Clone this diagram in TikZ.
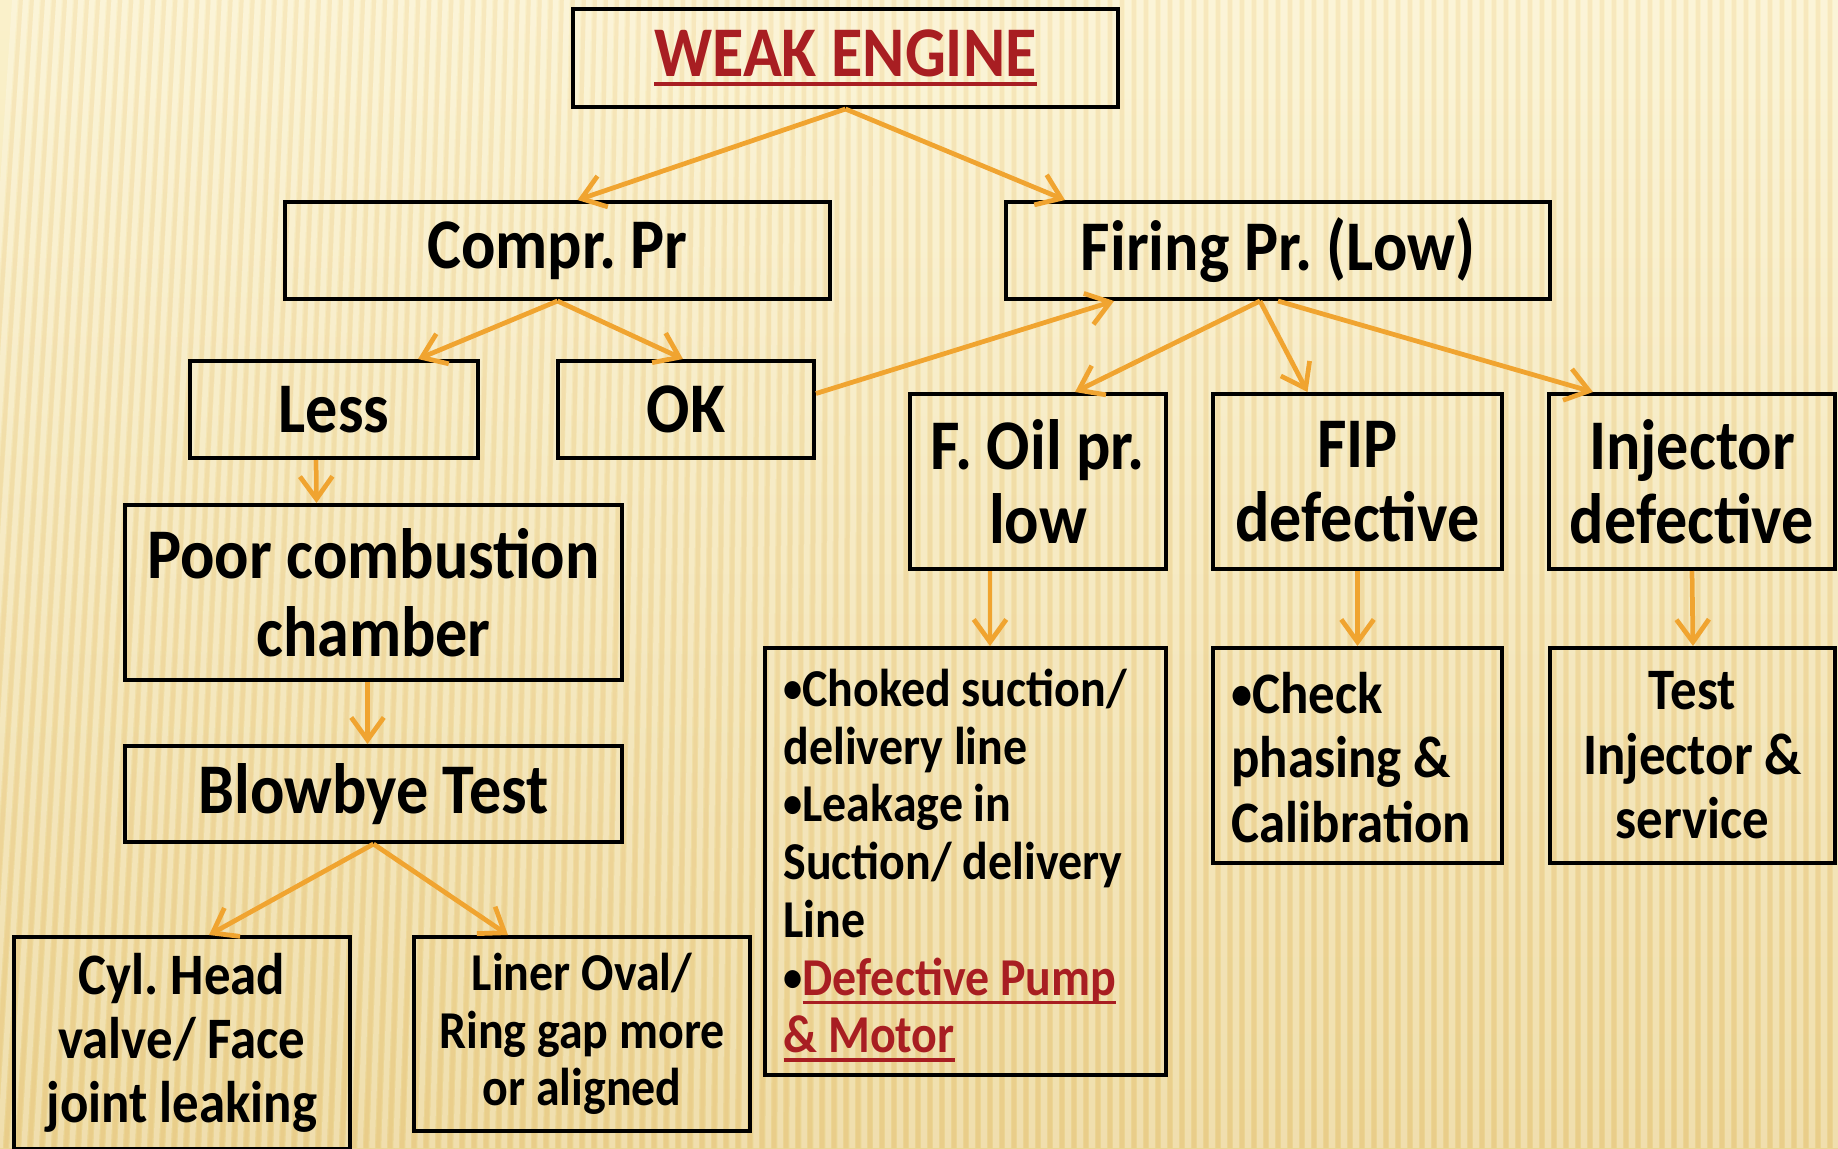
\documentclass[tikz,border=0pt]{standalone}
\usepackage{fontspec}
\setmainfont{Carlito}[FakeStretch=0.9]
\usetikzlibrary{arrows.meta,calc}
\frenchspacing

\definecolor{bgtop}{RGB}{250,241,203}
\definecolor{bgbot}{RGB}{235,212,146}
\definecolor{linkorange}{RGB}{240,164,48}
\definecolor{alertred}{RGB}{168,30,34}

% red underlined text
\newcommand{\ulred}[1]{{\color{alertred}\setbox0=\hbox{#1}%
  \rlap{\rule[-3.6pt]{\wd0}{1.4pt}}\box0}}
% small list bullet
\newcommand{\bul}{\raisebox{1.6pt}{\scalebox{0.8}{•}}}

\tikzset{
  box/.style={draw=black, line width=1.6pt, inner sep=0pt, align=center},
  sz/.style 2 args={minimum width=#1*0.4pt, minimum height=#2*0.4pt},
  arr/.style={draw=linkorange, line width=1.9pt,
    -{Straight Barb[length=9pt,width=13pt,line width=1.9pt]}},
  bigtxt/.style={font=\fontsize{28.5}{29.6}\selectfont\bfseries},
  midtxt/.style={font=\fontsize{23.5}{25.8}\selectfont\bfseries},
  cyltxt/.style={font=\fontsize{23.5}{25.6}\selectfont\bfseries},
  smalltxt/.style={font=\fontsize{21.3}{23}\selectfont\bfseries},
  listtxt/.style={font=\fontsize{21.3}{23.1}\selectfont\bfseries, inner sep=0pt, align=left, anchor=west},
}

\begin{document}
\begin{tikzpicture}[x=0.4pt, y=-0.4pt]
  \path[use as bounding box] (0,0) rectangle (1838,1148);
  \clip (0,0) rectangle (1838,1148);

  % paper background with fine vertical grain
  \fill[top color=bgtop, bottom color=bgbot] (0,0) rectangle (1838,1148);
  \foreach \x in {-60,-48,...,1900} {
    \pgfmathsetmacro\s{max(0,70-\x*0.08)}
    \draw[white, opacity=0.25, line width=2.2pt] ({\x+\s},0) -- (\x,1148);
    \draw[brown!60!orange, opacity=0.08, line width=1.6pt] ({\x+6+\s},0) -- (\x+6,1148);
  }

  % boxes
  \node[box, sz={545}{98}, bigtxt] (weak) at (845.5,58) {\ulred{WEAK ENGINE}};
  \node[box, sz={545}{97}, bigtxt] (compr) at (557.5,250.5) {Compr. Pr};
  \node[box, sz={544}{97}, bigtxt] (firing) at (1278,250.5) {Firing Pr. (Low)};
  \node[box, sz={288}{97}, bigtxt] (less) at (334,409.5) {Less};
  \node[box, sz={256}{97}, bigtxt] (ok) at (686,409.5) {OK};
  \node[box, sz={256}{175}, bigtxt] (foil) at (1038,481.5) {F. Oil pr.\\low};
  \node[box, sz={289}{175}, bigtxt] (fip) at (1357.5,481.5) {FIP\\defective};
  \node[box, sz={286}{175}, bigtxt] (inj) at (1692,481.5) {Injector\\defective};
  \node[box, sz={497}{175}, font=\fontsize{28.5}{31}\selectfont\bfseries] (poor) at (373.5,592.5)
    {Poor combustion\\chamber};
  \node[box, sz={497}{96}, bigtxt] (blow) at (373.5,794) {Blowbye Test};
  \node[box, sz={336}{212}, cyltxt] (cyl) at (182,1043)
    {Cyl. Head\\valve/ Face\\joint leaking};
  \node[box, sz={336}{194}, smalltxt] (liner) at (582,1034)
    {Liner Oval/\\Ring gap more\\or aligned};
  \node[box, sz={401}{427}] (causes) at (965.5,861.5) {};
  \node[listtxt] (causestxt) at ($(causes.west)+(20,4)$)
    {\bul Choked suction/\\delivery line\\\bul Leakage in\\Suction/ delivery\\Line\\
     \bul\ulred{Defective Pump}\\\ulred{\& Motor}};
  \node[box, sz={289}{215}] (check) at (1357.5,755.5) {};
  \node[listtxt, font=\fontsize{23.5}{25.8}\selectfont\bfseries] (checktxt)
    at ($(check.west)+(20,2)$) {\bul Check\\phasing \&\\Calibration};
  \node[box, sz={285}{215}, midtxt] (test) at (1692.5,755.5)
    {Test\\Injector \&\\service};

  % connectors
  \draw[arr] (weak.south) -- ($(compr.north)+(20,0)$);
  \draw[arr] (weak.south) -- ($(firing.north west)+(61,0)$);
  \draw[arr] (compr.south) -- ($(less.north)+(84,0)$);
  \draw[arr] (compr.south) -- ($(ok.north)+(-3,0)$);
  \draw[arr] ($(ok.east)+(0,-16)$) -- ($(firing.south)+(-164,0)$);
  \draw[arr] ($(firing.south)+(-18,0)$) -- ($(foil.north)+(37,0)$);
  \draw[arr] ($(firing.south)+(-18,0)$) -- ($(fip.north)+(-50,0)$);
  \draw[arr] (firing.south) -- ($(inj.north)+(-99,0)$);
  \draw[arr] ($(less.south)+(-18,0)$) -- ($(poor.north)+(-57,0)$);
  \draw[arr] ($(poor.south)+(-6,0)$) -- ($(blow.north)+(-6,0)$);
  \draw[arr] (blow.south) -- ($(cyl.north)+(27,0)$);
  \draw[arr] (blow.south) -- ($(liner.north)+(-74,0)$);
  \draw[arr] ($(foil.south)+(-48,0)$) -- ($(causes.north)+(24.5,0)$);
  \draw[arr] (fip.south) -- (check.north);
  \draw[arr] (inj.south) -- ($(test.north)+(0.5,0)$);
\end{tikzpicture}
\end{document}
